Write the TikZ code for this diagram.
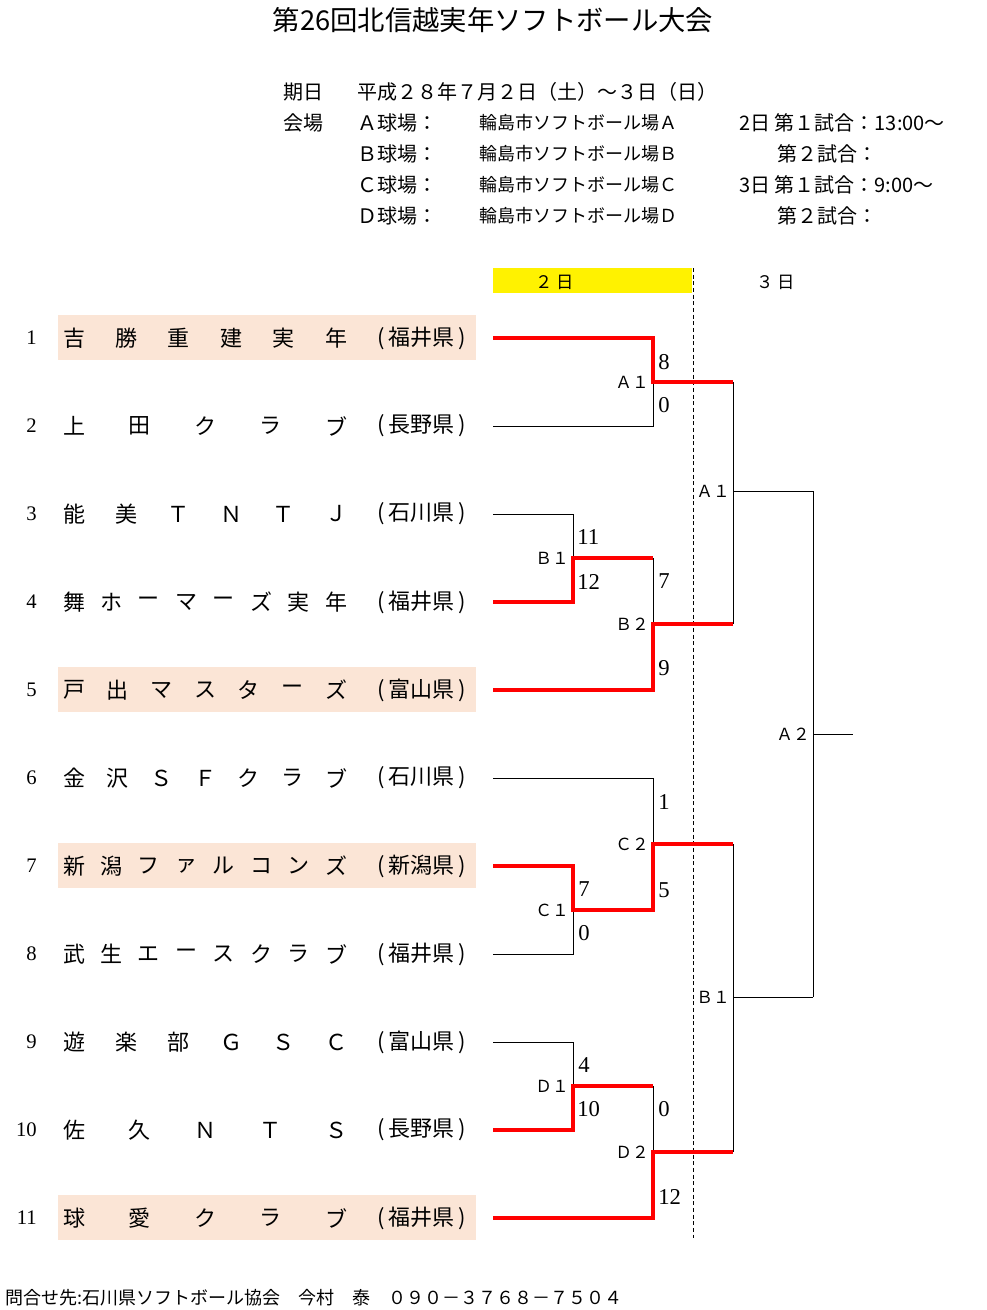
\documentclass[tikz,border=0pt]{standalone}
\usepackage{fontspec}
\newfontfamily\jp{Noto Sans CJK JP}
\newfontfamily\numfont{Liberation Serif}
\usetikzlibrary{calc}
\definecolor{peach}{HTML}{FBE5D6}

\begin{document}
\begin{tikzpicture}[x=0.75pt, y=-0.75pt,
  every node/.style={inner sep=0pt},
  title/.style={font=\jp\fontsize{20.5}{24}\selectfont},
  head/.style={font=\jp\fontsize{15}{18}\selectfont, anchor=west},
  venue/.style={font=\jp\fontsize{13.5}{16}\selectfont, anchor=west},
  day/.style={font=\jp\fontsize{13}{16}\selectfont},
  seed/.style={font=\numfont\fontsize{15.5}{18}\selectfont, anchor=east},
  tchar/.style={font=\jp\fontsize{16.5}{20}\selectfont},
  pref/.style={font=\jp\fontsize{16.5}{20}\selectfont},
  score/.style={font=\numfont\fontsize{17}{20}\selectfont, anchor=west},
  match/.style={font=\jp\fontsize{12.5}{15}\selectfont, anchor=east},
  win/.style={red, line width=2.3pt},
  lose/.style={black, line width=0.6pt}]
\useasboundingbox (0,0) rectangle (986,1310);

\node[title] (title) at (493,20) {第26回北信越実年ソフトボール大会};

\node[head] (kijitsu) at (283,92) {期日};
\node[head] (date) at (357,92) {平成２８年７月２日（土）～３日（日）};
\node[head] (kaijo) at (283,123) {会場};
\node[head] (fieldA) at (357,123) {Ａ球場：};
\node[head] (fieldB) at (357,154) {Ｂ球場：};
\node[head] (fieldC) at (357,185) {Ｃ球場：};
\node[head] (fieldD) at (357,216) {Ｄ球場：};
\node[venue] (venueA) at (479,123) {輪島市ソフトボール場Ａ};
\node[venue] (venueB) at (479,154) {輪島市ソフトボール場Ｂ};
\node[venue] (venueC) at (479,185) {輪島市ソフトボール場Ｃ};
\node[venue] (venueD) at (479,216) {輪島市ソフトボール場Ｄ};
\node[head] (timeA) at (739,123) {2日 第１試合：13:00～};
\node[head] (timeB) at (777,154) {第２試合：};
\node[head] (timeC) at (739,185) {3日 第１試合：9:00～};
\node[head] (timeD) at (777,216) {第２試合：};

\fill[yellow] (493,268) rectangle (692,293);
\node[day] (day2) at (555,282) {２ 日};
\node[day] (day3) at (776,282) {３ 日};
\draw[densely dashed, line width=0.5pt] (693,268) -- (693,1238);

\foreach \n/\k/\name/\pr/\hl in {
  1/6/{吉,勝,重,建,実,年}/福井県/1,
  2/5/{上,田,ク,ラ,ブ}/長野県/0,
  3/6/{能,美,Ｔ,Ｎ,Ｔ,Ｊ}/石川県/0,
  4/8/{舞,ホ,ー,マ,ー,ズ,実,年}/福井県/0,
  5/7/{戸,出,マ,ス,タ,ー,ズ}/富山県/1,
  6/7/{金,沢,Ｓ,Ｆ,ク,ラ,ブ}/石川県/0,
  7/8/{新,潟,フ,ァ,ル,コ,ン,ズ}/新潟県/1,
  8/8/{武,生,エ,ー,ス,ク,ラ,ブ}/福井県/0,
  9/6/{遊,楽,部,Ｇ,Ｓ,Ｃ}/富山県/0,
  10/5/{佐,久,Ｎ,Ｔ,Ｓ}/長野県/0,
  11/5/{球,愛,ク,ラ,ブ}/福井県/1}{
  \pgfmathsetmacro\y{338+88*(\n-1)}
  \ifnum\hl=1 \fill[peach] (58,\y-23) rectangle (476,\y+22); \fi
  \node[seed] (s\n) at (37,\y) {\n};
  \foreach \c [count=\i] in \name
    \node[tchar] (c\n-\i) at ({74+(\i-1)*262/(\k-1)},\y) {\c};
  \node[pref] (p\n) at (422,\y) {(\,\pr\,)};
  \coordinate (t\n) at (493,\y);
}

\coordinate (mA1) at (653,382);
\coordinate (mB1) at (573,558);
\coordinate (mB2) at (653,624);
\coordinate (mC1) at (573,910);
\coordinate (mC2) at (653,844);
\coordinate (mD1) at (573,1086);
\coordinate (mD2) at (653,1152);
\coordinate (fA1) at (733,491);
\coordinate (fB1) at (733,997);
\coordinate (fA2) at (813,734);
\coordinate (fin) at (853,734);

\draw[lose] (t2) -| (mA1);
\draw[lose] (t3) -| (mB1);
\draw[lose] (mB1 -| mB2) -- (mB2);
\draw[lose] (mA1 -| fA1) -- (mB2 -| fA1);
\draw[lose] (fA1) -- (fA1 -| fA2);
\draw[lose] (t6) -| (mC2);
\draw[lose] (t8) -| (mC1);
\draw[lose] (t9) -| (mD1);
\draw[lose] (mD1 -| mD2) -- (mD2);
\draw[lose] (mC2 -| fB1) -- (mD2 -| fB1);
\draw[lose] (fB1) -- (fB1 -| fA2);
\draw[lose] (fA1 -| fA2) -- (fB1 -| fA2);
\draw[lose] (fA2) -- (fin);

\draw[win] (t1) -| (mA1) -- (mA1 -| fA1);
\draw[win] (t4) -| (mB1) -- (mB1 -| mB2);
\draw[win] (t5) -| (mB2) -- (mB2 -| fA1);
\draw[win] (t7) -| (mC1) -- (mC1 -| mC2) -- (mC2) -- (mC2 -| fB1);
\draw[win] (t10) -| (mD1) -- (mD1 -| mD2);
\draw[win] (t11) -| (mD2) -- (mD2 -| fB1);

\node[match] (lA1) at (649,382) {Ａ１};
\node[match] (lB1) at (569,558) {Ｂ１};
\node[match] (lB2) at (649,624) {Ｂ２};
\node[match] (lC1) at (569,910) {Ｃ１};
\node[match] (lC2) at (649,844) {Ｃ２};
\node[match] (lD1) at (569,1086) {Ｄ１};
\node[match] (lD2) at (649,1152) {Ｄ２};
\node[match] (lsA1) at (730,491) {Ａ１};
\node[match] (lsB1) at (730,997) {Ｂ１};
\node[match] (lfA2) at (810,734) {Ａ２};

\node[score] (xA1a) at (658,362) {8};
\node[score] (xA1b) at (658,405) {0};
\node[score] (xB1a) at (577,537) {11};
\node[score] (xB1b) at (577,582) {12};
\node[score] (xB2a) at (658,581) {7};
\node[score] (xB2b) at (658,668) {9};
\node[score] (xC2a) at (658,802) {1};
\node[score] (xC2b) at (658,890) {5};
\node[score] (xC1a) at (578,889) {7};
\node[score] (xC1b) at (578,933) {0};
\node[score] (xD1a) at (578,1065) {4};
\node[score] (xD1b) at (577,1109) {10};
\node[score] (xD2a) at (658,1109) {0};
\node[score] (xD2b) at (658,1197) {12};

\node[venue] (contact) at (5,1298) {問合せ先:石川県ソフトボール協会　今村　泰　０９０－３７６８－７５０４};
\end{tikzpicture}
\end{document}
